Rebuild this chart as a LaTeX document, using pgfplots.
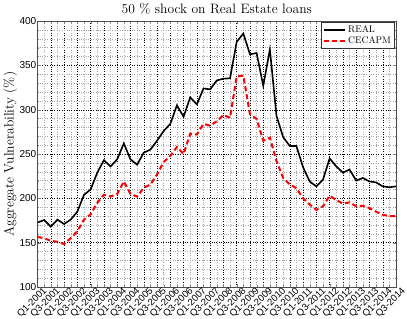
\documentclass[border=0pt]{standalone}
\usepackage{fontspec}
\usepackage{pgfplots}
\pgfplotsset{compat=1.18}
\usepackage{pgfplotstable}
\newfontfamily\arial{Liberation Sans}

% quarter index (0 = Q1-2001), REAL, CECAPM
\pgfplotstableread{
i  real   cecapm
0  172.7  156.5
1  175.5  155.0
2  168.0  152.0
3  176.0  151.0
4  171.0  148.5
5  176.0  155.0
6  185.0  163.0
7  204.0  176.0
8  210.0  182.0
9  229.0  195.0
10 243.0  204.0
11 236.0  202.0
12 244.0  205.0
13 262.0  219.0
14 244.0  205.0
15 238.0  202.0
16 251.5  212.0
17 255.0  215.5
18 265.0  227.0
19 276.0  241.0
20 284.0  248.0
21 305.0  258.0
22 292.0  250.0
23 314.0  273.0
24 306.0  272.0
25 324.0  284.0
26 323.0  282.0
27 333.0  287.0
28 335.0  294.0
29 335.5  291.0
30 376.5  337.5
31 386.0  338.5
32 362.5  295.0
33 364.0  289.5
34 327.0  265.0
35 368.0  268.5
36 293.0  242.0
37 269.0  223.0
38 259.0  215.5
39 259.0  211.5
40 235.0  200.0
41 219.0  193.0
42 213.5  187.0
43 221.0  191.0
44 245.0  203.0
45 236.0  198.0
46 229.0  194.0
47 232.5  195.5
48 220.0  191.0
49 223.0  191.5
50 219.0  189.0
51 218.0  185.0
52 213.5  181.5
53 212.5  180.0
54 213.5  180.0
}\vuln

\begin{document}
\begin{tikzpicture}
\begin{axis}[
    scale only axis,
    width=356pt, height=264pt,
    xmin=0, xmax=54, ymin=100, ymax=400,
    xtick={0,2,...,54},
    xticklabels={Q1-2001,Q3-2001,Q1-2002,Q3-2002,Q1-2003,Q3-2003,Q1-2004,Q3-2004,
      Q1-2005,Q3-2005,Q1-2006,Q3-2006,Q1-2007,Q3-2007,Q1-2008,Q3-2008,Q1-2009,Q3-2009,
      Q1-2010,Q3-2010,Q1-2011,Q3-2011,Q1-2012,Q3-2012,Q1-2013,Q3-2013,Q1-2014,Q3-2014},
    ytick={100,150,...,400},
    minor x tick num=1, minor y tick num=4,
    /pgf/number format/assume math mode=true,
    x tick label style={rotate=45, anchor=north east, font=\arial\fontsize{9.5}{11}\selectfont,
      inner sep=0pt, xshift=4pt, yshift=-3pt},
    y tick label style={font=\arial\fontsize{10}{12}\selectfont, inner sep=1pt},
    ylabel={Aggregate Vulnerability (\%)},
    ylabel style={font=\fontsize{13.5}{15}\selectfont, yshift=-2pt},
    title={50 \% shock on Real Estate loans},
    title style={font=\fontsize{13.5}{15}\selectfont, at={(0.5,1)}, anchor=base, yshift=1.5pt},
    grid=both,
    major grid style={black, dotted},
    minor grid style={black!35, dotted},
    tick align=inside,
    major tick length=3pt, minor tick length=1.5pt,
    axis line style={black!70},
    legend style={at={(0.995,0.995)}, anchor=north east, font=\fontsize{9.5}{10.5}\selectfont,
      draw=black!80, inner sep=1pt, row sep=-1pt},
    legend image post style={xscale=1.25},
    legend cell align=left,
  ]
  \addplot[black, line width=1.6pt] table[x=i, y=real] {\vuln};
  \addlegendentry{REAL}
  \addplot[red, line width=2pt, dash pattern=on 5pt off 3pt] table[x=i, y=cecapm] {\vuln};
  \addlegendentry{CECAPM}
\end{axis}
\end{tikzpicture}
\end{document}
